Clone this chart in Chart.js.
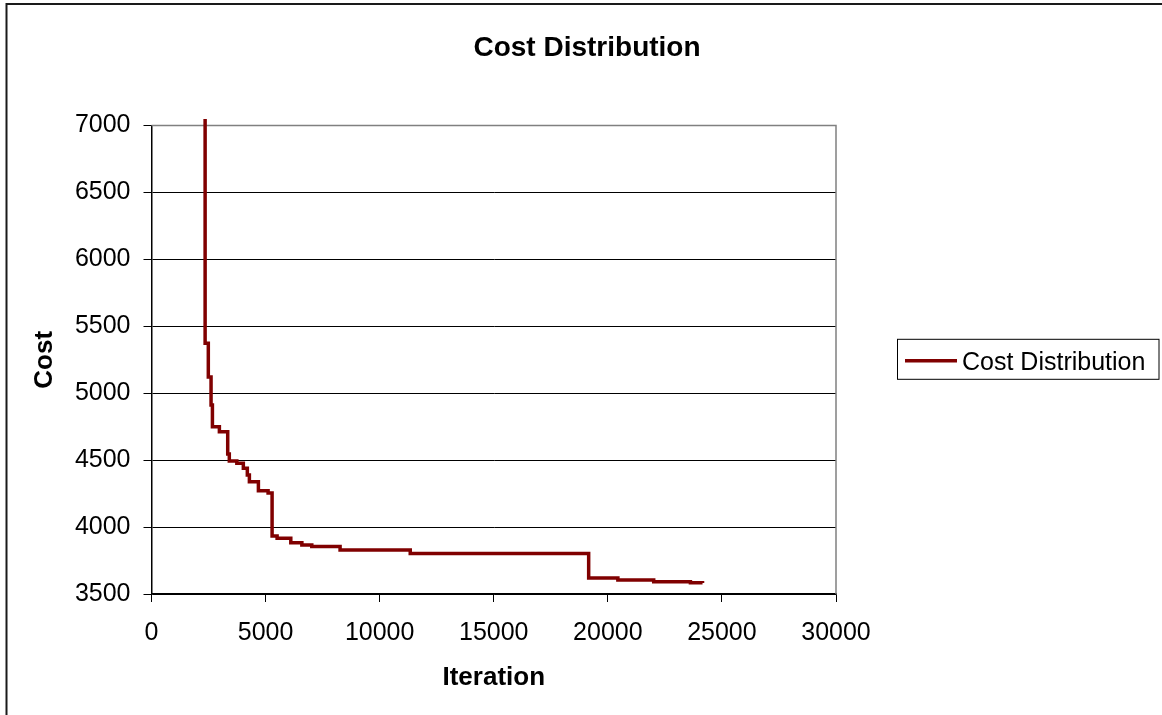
<!DOCTYPE html>
<html><head><meta charset="utf-8">
<script src="https://cdn.jsdelivr.net/npm/chart.js@4.4.1/dist/chart.umd.min.js"></script>
<style>html,body{margin:0;padding:0;background:#fff;}#wrap{width:1162px;height:715px;position:relative;}</style>
</head><body><div id="wrap"><canvas id="c" width="1162" height="715"></canvas></div>
<script>
const chartTitle = "Cost Distribution";
const seriesName = "Cost Distribution";
const xAxisTitle = "Iteration";
const yAxisTitle = "Cost";
const iterations = [2350, 2350, 2490, 2610, 2670, 2975, 3340, 3410, 3740, 4025, 4200, 4290, 4685, 5110, 5285, 5505, 6105, 6590, 7025, 8265, 11340, 19160, 20440, 22010, 23620, 24150];
const costs      = [7050, 5374, 5122, 4913, 4750, 4713, 4546, 4494, 4477, 4439, 4389, 4339, 4272, 4255, 3933, 3916, 3883, 3866, 3854, 3829, 3803, 3620, 3605, 3592, 3584, 3582];
const xTicks = [0, 5000, 10000, 15000, 20000, 25000, 30000];
const yTicks = [3500, 4000, 4500, 5000, 5500, 6000, 6500, 7000];

const FONT = "'Liberation Sans', Arial, Helvetica, sans-serif";
Chart.defaults.font.family = FONT;
Chart.defaults.color = '#000';

const decor = {
  id: 'decor',
  beforeDatasetsDraw(chart) {
    const {ctx, chartArea: a} = chart;
    ctx.save();
    ctx.strokeStyle = '#808080';
    ctx.lineWidth = 1.5;
    ctx.beginPath();
    ctx.moveTo(a.left, a.top);
    ctx.lineTo(a.right, a.top);
    ctx.lineTo(a.right, a.bottom);
    ctx.stroke();
    ctx.restore();
  },
  afterDraw(chart) {
    const {ctx, chartArea: a, width, height} = chart;
    ctx.save();
    ctx.strokeStyle = '#1a1a1a';
    ctx.lineWidth = 2;
    ctx.beginPath();
    ctx.moveTo(6.5, height + 2);
    ctx.lineTo(6.5, 4);
    ctx.lineTo(width + 2, 4);
    ctx.stroke();
    const lx = a.right + 61, cy = (a.top + a.bottom) / 2;
    ctx.strokeStyle = '#000';
    ctx.lineWidth = 1;
    ctx.strokeRect(lx + 0.5, cy - 20.5, 261.5, 40);
    ctx.strokeStyle = chart.data.datasets[0].borderColor;
    ctx.lineWidth = 3.5;
    ctx.beginPath();
    ctx.moveTo(lx + 8, cy + 1);
    ctx.lineTo(lx + 60, cy + 1);
    ctx.stroke();
    ctx.fillStyle = '#000';
    ctx.font = '25px ' + FONT;
    ctx.textBaseline = 'alphabetic';
    ctx.textAlign = 'left';
    ctx.fillText(chart.data.datasets[0].label, lx + 65, cy + 10);
    ctx.restore();
  }
};

new Chart(document.getElementById('c'), {
  type: 'line',
  data: {
    datasets: [{
      label: seriesName,
      data: iterations.map((x, i) => ({x: x, y: costs[i]})),
      borderColor: '#800000',
      backgroundColor: '#800000',
      borderWidth: 3.5,
      pointRadius: 0,
      stepped: true,
      fill: false,
      clip: {left: 0, top: 7, right: 0, bottom: 0}
    }]
  },
  options: {
    responsive: false,
    animation: false,
    devicePixelRatio: 1,
    layout: {padding: {left: 12, top: 0, right: 0, bottom: 0}},
    plugins: {
      legend: {display: false},
      tooltip: {enabled: false},
      title: {
        display: true, text: chartTitle, color: '#000',
        font: {size: 28, weight: 'bold'},
        padding: {top: 31, bottom: 61}
      }
    },
    scales: {
      x: {
        type: 'linear', position: 'bottom', min: 0, max: 30000,
        afterFit(s) { s.height = 121; },
        afterBuildTicks(s) { s.ticks = xTicks.map(v => ({value: v})); },
        ticks: {font: {size: 25}, color: '#000', padding: 16, maxRotation: 0, autoSkip: false, callback: v => String(v)},
        grid: {drawOnChartArea: false, color: '#000', tickLength: 8, lineWidth: 1},
        border: {color: '#000', width: 1.5},
        title: {display: true, text: xAxisTitle, color: '#000', font: {size: 26, weight: 'bold'}, padding: {top: 0, bottom: 22}}
      },
      y: {
        type: 'linear', position: 'left', min: 3500, max: 7000,
        afterFit(s) { s.width = 139.5; },
        afterBuildTicks(s) { s.ticks = yTicks.map(v => ({value: v})); },
        ticks: {font: {size: 25}, color: '#000', padding: 13, callback: v => String(v)},
        grid: {color: '#000', lineWidth: 1, tickLength: 8},
        border: {color: '#000', width: 1.5},
        title: {display: true, text: yAxisTitle, color: '#000', font: {size: 26, weight: 'bold'}, padding: {top: 17, bottom: 0}}
      },
      yR: {
        type: 'linear', position: 'right', display: true,
        afterFit(s) { s.width = 326; },
        ticks: {display: false},
        grid: {display: false, drawTicks: false},
        border: {display: false}
      }
    }
  },
  plugins: [decor]
});
</script>
</body></html>
